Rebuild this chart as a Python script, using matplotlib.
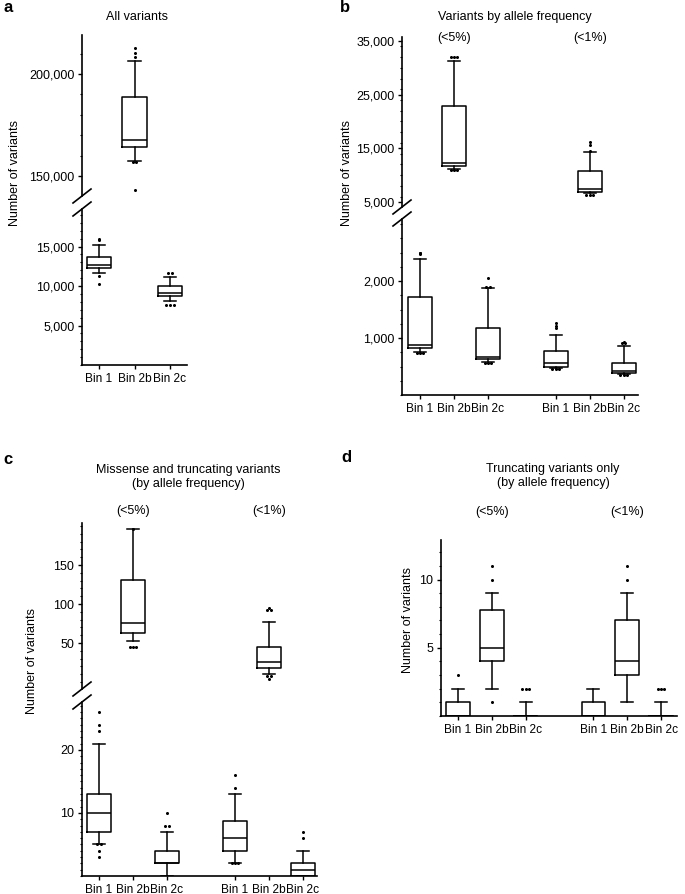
import matplotlib
matplotlib.use("Agg")
import matplotlib.pyplot as plt
from matplotlib.lines import Line2D
from matplotlib import transforms
from matplotlib.ticker import FuncFormatter, MultipleLocator

plt.rcParams['font.family'] = ['Liberation Sans', 'DejaVu Sans']
plt.rcParams['font.size'] = 9

W, H = 685, 894

bins = ["Bin 1", "Bin 2b", "Bin 2c"]
groups = ["(<5%)", "(<1%)"]

# panel a: all variants
a_q1 = [12340, 164200, 8700]
a_med = [12720, 167600, 9170]
a_q3 = [13730, 188700, 10000]
a_lo = [11700, 157400, 8040]
a_hi = [15250, 206400, 11200]
a_fl = [[15800, 15900, 11300, 10200],
        [212700, 210300, 208300, 157000, 157000, 143100],
        [11700, 11700, 7650, 7650, 7650]]

# panel b: by allele frequency (<5% then <1%)
b_q1 = [825, 11700, 630, 490, 6900, 390]
b_med = [880, 12300, 670, 560, 7400, 420]
b_q3 = [1720, 22900, 1175, 770, 10800, 560]
b_lo = [760, 11150, 580, 480, 6700, 370]
b_hi = [2390, 31300, 1880, 1050, 14300, 860]
b_fl = [[2500, 2470, 2490, 740, 740, 740],
        [32000, 32000, 32000, 11000, 11000, 11000],
        [2050, 1890, 1890, 560, 560, 560],
        [1260, 1210, 1170, 460, 460, 460],
        [16200, 15600, 14500, 6300, 6300, 6300],
        [930, 910, 910, 350, 350, 350]]

# panel c: missense and truncating
c_q1 = [7, 63, 2, 4, 18, 0]
c_med = [10, 76, 2, 6, 26, 1]
c_q3 = [13, 131, 4, 8.7, 45, 2]
c_lo = [5, 52, 0, 2, 10, 0]
c_hi = [21, 196, 7, 13, 77, 4]
c_fl = [[26, 24, 23, 5, 5, 4, 3],
        [196, 45, 45, 45],
        [10, 8, 8],
        [16, 14, 2, 2, 2],
        [95, 93, 93, 8, 8, 4],
        [7, 6]]

# panel d: truncating only
d_q1 = [0, 4, 0, 0, 3, 0]
d_med = [0, 5, 0, 0, 4, 0]
d_q3 = [1, 7.75, 0, 1, 7, 0]
d_lo = [0, 2, 0, 0, 1, 0]
d_hi = [2, 9, 1, 2, 9, 1]
d_fl = [[3], [10, 11, 1], [2, 2, 2], [], [10, 11], [2, 2, 2]]

pos3 = [1, 2, 3]
pos6 = [1, 2, 3, 5, 6, 7]


def fx(x):
    return x / W


def fy(y):
    return 1 - y / H


def make_ax(x0, y0, x1, y1):
    ax = fig.add_axes([fx(x0), fy(y1), (x1 - x0) / W, (y1 - y0) / H])
    ax.spines['top'].set_visible(False)
    ax.spines['right'].set_visible(False)
    for s in ax.spines.values():
        s.set_linewidth(1.2)
    ax.tick_params(direction='out', length=3, width=1, pad=2.5, labelsize=9)
    ax.tick_params(axis='x', labelsize=8.6)
    ax.tick_params(which='minor', direction='out', length=1.8, width=0.8)
    ax.patch.set_visible(False)
    return ax


def draw_box(ax, p, q1, med, q3, lo, hi, fl):
    st = dict(q1=q1, med=med, q3=q3, whislo=lo, whishi=hi, fliers=[])
    lp = dict(color='black', linewidth=1.1)
    ax.bxp([st], positions=[p], widths=0.7, showfliers=False, manage_ticks=False,
           boxprops=lp, medianprops=lp, whiskerprops=lp, capprops=lp)
    for v in sorted(set(fl)):
        n = fl.count(v)
        for k in range(n):
            off = (k - (n - 1) / 2) * 0.1
            ax.plot(p + off, v, 'o', color='black', markersize=2.2, markeredgewidth=0)


def comma(v, _):
    return f"{v:,.0f}"


def brk(x, y):
    fig.add_artist(Line2D([fx(x - 9), fx(x + 9)], [fy(y + 7), fy(y - 7)],
                          transform=fig.transFigure, color='black', linewidth=1.2))


def top_only(ax, lim):
    ax.spines['bottom'].set_visible(False)
    ax.set_xlim(*lim)
    ax.set_xticks([])


fig = plt.figure(figsize=(W / 100, H / 100), dpi=100)

# ---------- a ----------
alim = (0.52, 3.48)
a_up = make_ax(82, 35, 187, 196)
a_low = make_ax(82, 209, 187, 365)
for i, p in enumerate(pos3):
    ax = a_up if bins[i] == "Bin 2b" else a_low
    draw_box(ax, p, a_q1[i], a_med[i], a_q3[i], a_lo[i], a_hi[i], a_fl[i])
a_up.set_ylim(140200, 219100)
a_up.set_yticks([150000, 200000])
a_up.yaxis.set_minor_locator(MultipleLocator(10000))
a_up.yaxis.set_major_formatter(FuncFormatter(comma))
top_only(a_up, alim)
a_low.set_ylim(0, 19750)
a_low.set_yticks([5000, 10000, 15000])
a_low.yaxis.set_minor_locator(MultipleLocator(1000))
a_low.yaxis.set_major_formatter(FuncFormatter(comma))
a_low.set_xlim(*alim)
a_low.set_xticks(pos3)
a_low.set_xticklabels(bins)
brk(82, 196)
brk(82, 209)

# ---------- b ----------
blim = (0.47, 7.42)
b_up = make_ax(402, 37, 638, 207)
b_low = make_ax(402, 219, 638, 395)
for i, p in enumerate(pos6):
    ax = b_up if bins[i % 3] == "Bin 2b" else b_low
    draw_box(ax, p, b_q1[i], b_med[i], b_q3[i], b_lo[i], b_hi[i], b_fl[i])
b_up.set_ylim(4070, 35740)
b_up.set_yticks([5000, 15000, 25000, 35000])
b_up.yaxis.set_minor_locator(MultipleLocator(2000))
b_up.yaxis.set_major_formatter(FuncFormatter(comma))
top_only(b_up, blim)
b_low.set_ylim(0, 3088)
b_low.set_yticks([1000, 2000])
b_low.yaxis.set_minor_locator(MultipleLocator(250))
b_low.yaxis.set_major_formatter(FuncFormatter(comma))
b_low.set_xlim(*blim)
b_low.set_xticks(pos6)
b_low.set_xticklabels(bins * 2)
brk(402, 207)
brk(402, 219)

# ---------- c ----------
clim = (0.5, 7.41)
c_up = make_ax(82, 523, 317, 689)
c_low = make_ax(82, 702, 317, 876)
for i, p in enumerate(pos6):
    ax = c_up if bins[i % 3] == "Bin 2b" else c_low
    draw_box(ax, p, c_q1[i], c_med[i], c_q3[i], c_lo[i], c_hi[i], c_fl[i])
c_up.set_ylim(-9, 204)
c_up.set_yticks([50, 100, 150])
c_up.yaxis.set_minor_locator(MultipleLocator(10))
top_only(c_up, clim)
c_low.set_ylim(0, 27.6)
c_low.set_yticks([10, 20])
c_low.yaxis.set_minor_locator(MultipleLocator(1))
c_low.set_xlim(*clim)
c_low.set_xticks(pos6)
c_low.set_xticklabels(bins * 2)
brk(82, 689)
brk(82, 702)

# ---------- d ----------
dlim = (0.5, 7.47)
d_ax = make_ax(441, 540, 677, 716)
for i, p in enumerate(pos6):
    draw_box(d_ax, p, d_q1[i], d_med[i], d_q3[i], d_lo[i], d_hi[i], d_fl[i])
d_ax.set_ylim(0, 12.9)
d_ax.set_yticks([5, 10])
d_ax.yaxis.set_minor_locator(MultipleLocator(1))
d_ax.set_xlim(*dlim)
d_ax.set_xticks(pos6)
d_ax.set_xticklabels(bins * 2)

# ---------- texts ----------
for ax, ypx in [(b_up, 38), (c_up, 511), (d_ax, 512)]:
    tr = transforms.blended_transform_factory(ax.transData, fig.transFigure)
    ax.text(2, fy(ypx), groups[0], transform=tr, ha='center', va='center', fontsize=9)
    ax.text(6, fy(ypx), groups[1], transform=tr, ha='center', va='center', fontsize=9)

fig.text(fx(137), fy(17), "All variants", ha='center', va='center', fontsize=9)
fig.text(fx(515), fy(17), "Variants by allele frequency", ha='center', va='center', fontsize=9)
fig.text(fx(188), fy(477), "Missense and truncating variants\n(by allele frequency)",
         ha='center', va='center', fontsize=9, linespacing=1.3)
fig.text(fx(553), fy(476), "Truncating variants only\n(by allele frequency)",
         ha='center', va='center', fontsize=9, linespacing=1.3)

for lab, x, y in [("a", 3, 8), ("b", 340, 8), ("c", 3, 460), ("d", 341, 458)]:
    fig.text(fx(x), fy(y), lab, ha='left', va='center', fontsize=12, fontweight='bold')

for x, y in [(15, 173), (347, 173), (32, 661), (408, 620)]:
    fig.text(fx(x), fy(y), "Number of variants", rotation=90, ha='center', va='center', fontsize=9)

fig.savefig("out.png", dpi=100)
